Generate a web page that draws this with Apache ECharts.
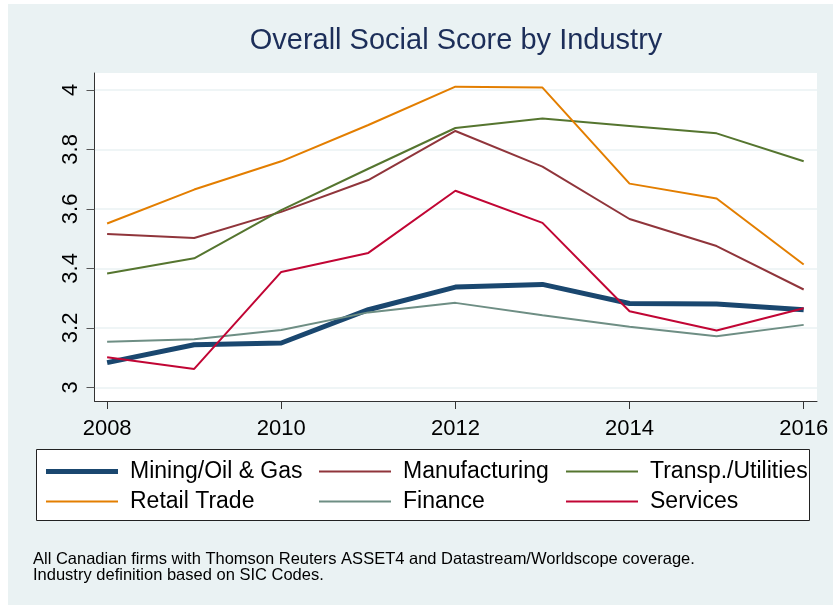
<!DOCTYPE html>
<html>
<head>
<meta charset="utf-8">
<script src="https://cdn.jsdelivr.net/npm/echarts@6/dist/echarts.min.js"></script>
<style>
  html, body { margin: 0; padding: 0; background: #fff; }
  #app { width: 833px; height: 605px; }
</style>
</head>
<body>
<div id="app"></div>
<script>
const years = [2008, 2009, 2010, 2011, 2012, 2013, 2014, 2015, 2016]
const xTicks = [2008, 2010, 2012, 2014, 2016]
const yTicks = [3, 3.2, 3.4, 3.6, 3.8, 4]

const mining = [3.083, 3.143, 3.149, 3.261, 3.337, 3.346, 3.282, 3.280, 3.261]
const manufacturing = [3.516, 3.502, 3.590, 3.697, 3.862, 3.742, 3.566, 3.475, 3.329]
const transport = [3.383, 3.434, 3.596, 3.735, 3.872, 3.904, 3.879, 3.854, 3.760]
const retail = [3.551, 3.665, 3.760, 3.882, 4.011, 4.008, 3.685, 3.635, 3.413]
const finance = [3.153, 3.162, 3.193, 3.252, 3.284, 3.242, 3.204, 3.172, 3.210]
const services = [3.101, 3.062, 3.388, 3.452, 3.661, 3.553, 3.256, 3.191, 3.266]

const names = ['Mining/Oil & Gas', 'Manufacturing', 'Transp./Utilities', 'Retail Trade', 'Finance', 'Services']
const values = [mining, manufacturing, transport, retail, finance, services]
const colors = ['#1A476F', '#90353B', '#55752F', '#E37E00', '#6E8E84', '#C10534']
const widths = [5, 2, 2, 2, 2, 2]

const title = 'Overall Social Score by Industry'
const notes = 'All Canadian firms with Thomson Reuters ASSET4 and Datastream/Worldscope coverage.\nIndustry definition based on SIC Codes.'

const FONT = 'Liberation Sans, Arial, sans-serif'

// legend slots: 3 columns x 2 rows (top of each row)
const legendCols = [46, 319, 566]
const legendRows = [460, 490]

const chart = echarts.init(document.getElementById('app'))

const series = names.map((name, i) => ({
  name: name,
  type: 'line',
  symbol: 'none',
  animation: false,
  lineStyle: { color: colors[i], width: widths[i] },
  itemStyle: { color: colors[i] },
  data: years.map((y, j) => [y, values[i][j]])
}))

const legends = names.map((name, i) => ({
  data: [{ name: name, icon: 'rect' }],
  left: legendCols[i % 3],
  top: legendRows[Math.floor(i / 3)],
  padding: 0,
  itemWidth: 72,
  itemHeight: widths[i],
  selectedMode: false,
  textStyle: {
    fontFamily: FONT,
    fontSize: 23,
    color: '#000',
    padding: [0, 0, 0, 7]
  }
}))

chart.setOption({
  backgroundColor: '#EAF2F3',
  animation: false,
  grid: {
    left: 94.5,
    right: 16,
    top: 73,
    bottom: 204,
    show: true,
    backgroundColor: '#fff',
    borderWidth: 0
  },
  xAxis: {
    type: 'value',
    min: 2007.855,
    max: 2016.153,
    axisLine: { show: true, onZero: false, lineStyle: { color: '#333', width: 1 } },
    axisTick: { show: true, length: 8, customValues: xTicks, lineStyle: { color: '#333' } },
    axisLabel: {
      customValues: xTicks,
      margin: 17,
      fontFamily: FONT,
      fontSize: 22,
      color: '#000',
      formatter: v => String(v)
    },
    splitLine: { show: false }
  },
  yAxis: {
    type: 'value',
    min: 2.954,
    max: 4.057,
    axisLine: { show: true, onZero: false, lineStyle: { color: '#333', width: 1 } },
    axisTick: { show: true, length: 8, customValues: yTicks, lineStyle: { color: '#555' } },
    axisLabel: {
      customValues: yTicks,
      rotate: 90,
      margin: 13,
      fontFamily: FONT,
      fontSize: 22,
      color: '#000',
      formatter: v => String(v)
    },
    splitLine: { show: true, lineStyle: { color: '#EAF2F3', width: 1.5 } }
  },
  legend: legends,
  series: series,
  graphic: [
    { type: 'rect', shape: { x: 0, y: 0, width: 8, height: 605 }, style: { fill: '#fff' }, silent: true },
    { type: 'rect', shape: { x: 0, y: 0, width: 833, height: 4 }, style: { fill: '#fff' }, silent: true },
    {
      type: 'rect',
      shape: { x: 36.5, y: 449.5, width: 773, height: 71 },
      style: { fill: '#fff', stroke: '#222', lineWidth: 1 },
      z: -1,
      silent: true
    },
    {
      type: 'text',
      x: 456,
      y: 41,
      style: {
        text: title,
        fontFamily: FONT,
        fontSize: 29,
        fill: '#1C2E59',
        textAlign: 'center',
        textVerticalAlign: 'middle'
      }
    },
    {
      type: 'text',
      x: 33,
      y: 551,
      style: {
        text: notes,
        fontFamily: FONT,
        fontSize: 16.5,
        lineHeight: 16,
        fill: '#000',
        textAlign: 'left',
        textVerticalAlign: 'top'
      }
    }
  ]
})
</script>
</body>
</html>
